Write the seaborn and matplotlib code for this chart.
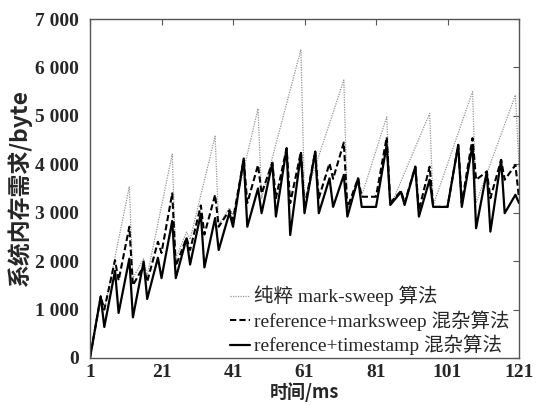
import matplotlib
matplotlib.use("Agg")
import matplotlib.pyplot as plt
import seaborn as sns
import pandas as pd
from matplotlib.ticker import FuncFormatter

# ---- data ----
x_pure = [1, 4, 5, 12, 13, 16, 17, 24, 25, 28, 29, 36, 37, 40, 41, 48, 49, 60, 61, 62,
          72, 73, 76, 77, 84, 85, 86, 96, 97, 108, 109, 120, 121]
y_pure = [0, 1270, 990, 3540, 1650, 2050, 1700, 4210, 2050, 2600, 2450, 4580, 2750, 3100,
          2950, 5150, 3300, 6370, 3300, 3500, 5740, 3100, 3600, 3350, 4980, 3250, 3300,
          5050, 3150, 5500, 3200, 5430, 3950]

x_rm = [1, 4, 5, 8, 9, 12, 13, 16, 17, 20, 21, 24, 25, 28, 29, 32, 33, 36, 37, 40, 41,
        44, 45, 48, 49, 52, 53, 56, 57, 60, 61, 64, 65, 68, 69, 72, 73, 76, 77, 81, 84,
        85, 88, 89, 92, 93, 96, 97, 101, 104, 105, 108, 109, 112, 113, 116, 117, 120, 121]
y_rm = [0, 1270, 1000, 2020, 1600, 2710, 1500, 1900, 1575, 2400, 2170, 3400, 1900, 2480,
        2230, 3150, 2550, 3370, 2710, 3050, 2850, 4100, 3200, 3985, 3400, 4030, 3300, 4330,
        3200, 4260, 3100, 4260, 3300, 4020, 3700, 4450, 3100, 3710, 3330, 3330, 4560,
        3200, 3450, 3200, 3950, 3050, 3950, 3120, 3120, 4400, 3200, 4540, 3680, 3850, 3300,
        4090, 3680, 3985, 3300]

x_rt = [1, 4, 5, 8, 9, 12, 13, 16, 17, 20, 21, 24, 25, 28, 29, 32, 33, 36, 37, 40, 41,
        44, 45, 48, 49, 52, 53, 56, 57, 60, 61, 64, 65, 68, 69, 72, 73, 76, 77, 81, 84,
        85, 88, 89, 92, 93, 96, 97, 101, 104, 105, 108, 109, 112, 113, 116, 117, 120, 121]
y_rt = [0, 1270, 640, 1800, 930, 2050, 840, 1990, 1220, 2070, 1650, 2830, 1650, 2470,
        1930, 2980, 1870, 2890, 2230, 3000, 2710, 4120, 2710, 3500, 2990, 4030, 2920, 4330,
        2540, 4230, 2990, 4260, 2990, 3710, 3120, 3780, 2920, 3710, 3120, 3120, 4400,
        3160, 3430, 3160, 3950, 2920, 3680, 3120, 3120, 4400, 3120, 4400, 2680, 3850, 2610,
        4090, 2990, 3370, 3200]

labels = ["纯粹 mark-sweep 算法",
          "reference+marksweep 混杂算法",
          "reference+timestamp 混杂算法"]
x_ticks = [1, 21, 41, 61, 81, 101, 121]
y_ticks = [0, 1000, 2000, 3000, 4000, 5000, 6000, 7000]

# ---- plotting ----
sns.set_style("white")
plt.rcParams["font.family"] = ["Liberation Serif", "Noto Sans CJK SC"]

fig = plt.figure(figsize=(5.37, 4.05), dpi=100)
ax = fig.add_axes([90 / 537, 1 - 358 / 405, (519 - 90) / 537, (358 - 19) / 405])

df1 = pd.DataFrame({"x": x_pure, "y": y_pure})
df2 = pd.DataFrame({"x": x_rm, "y": y_rm})
df3 = pd.DataFrame({"x": x_rt, "y": y_rt})

sns.lineplot(data=df1, x="x", y="y", ax=ax, color="#959595", lw=0.9,
             linestyle=(0, (1, 1)), label=labels[0], estimator=None)
sns.lineplot(data=df2, x="x", y="y", ax=ax, color="black", lw=1.5,
             linestyle=(0, (3, 1.5)), label=labels[1], estimator=None)
sns.lineplot(data=df3, x="x", y="y", ax=ax, color="black", lw=1.6,
             linestyle="-", label=labels[2], estimator=None)

ax.set_xlim(1, 121)
ax.set_ylim(0, 7000)
ax.set_xticks(x_ticks)
ax.set_yticks(y_ticks)
ax.yaxis.set_major_formatter(FuncFormatter(
    lambda v, p: "0" if v == 0 else f"{int(v):,}".replace(",", " ")))

ax.tick_params(direction="in", length=4, width=0.8, top=True, right=True,
               labelsize=14, color="#555555")
ax.tick_params(axis="y", pad=8)
ax.tick_params(axis="x", pad=4)
for lab in ax.get_xticklabels() + ax.get_yticklabels():
    lab.set_fontweight("bold")
    lab.set_family(["Liberation Serif"])

for sp in ax.spines.values():
    sp.set_color("#555555")
    sp.set_linewidth(1.0)

ax.set_xlabel("时间/ms", fontsize=13, fontweight="bold",
              family=["Noto Sans CJK SC", "Liberation Serif"], labelpad=1)
ax.set_ylabel("系统内存需求/byte", fontsize=16.5, fontweight="bold",
              family=["Noto Sans CJK SC", "Liberation Serif"], labelpad=2)

leg = ax.legend(loc="lower right", bbox_to_anchor=(0.995, -0.015), frameon=False,
                handlelength=1.0, handletextpad=0.2, labelspacing=0.2,
                borderaxespad=0.0,
                prop={"family": ["Liberation Serif", "Noto Sans CJK SC"], "size": 14})

fig.savefig("out.png", dpi=100)
